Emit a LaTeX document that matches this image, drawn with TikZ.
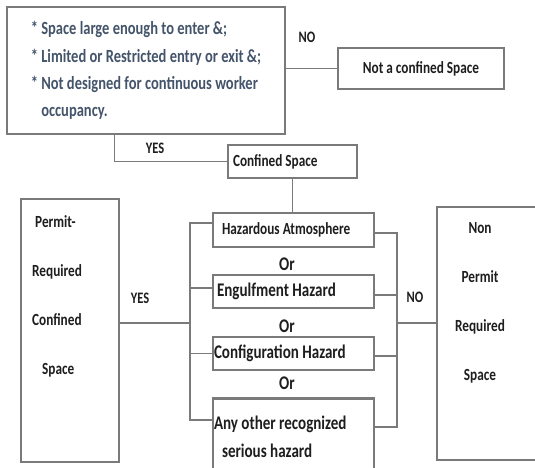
\documentclass[tikz,border=0pt]{standalone}
\usepackage{fontspec}
\setmainfont{Carlito}[FakeStretch=0.78]
\definecolor{linegray}{HTML}{7A7A7A}
\definecolor{txt}{HTML}{1E1E1E}
\definecolor{blueish}{HTML}{44546A}
\begin{document}
\begin{tikzpicture}[x=1pt,y=-1pt,
  box/.style={draw=linegray, line width=1.3pt, rectangle, inner sep=0pt},
  wire/.style={draw=linegray, line width=1.5pt},
  lbl/.style={font=\bfseries\fontsize{16}{18}\selectfont, text=txt, inner sep=0pt},
  bigtxt/.style={font=\bfseries\fontsize{19.3}{21}\selectfont},
  every node/.style={font=\bfseries\fontsize{17}{19}\selectfont, text=txt}
]
\clip (0,0) rectangle (535,467);
\fill[white] (0,0) rectangle (535,467);

% top decision box
\node[box, minimum width=278pt, minimum height=127pt, align=flush left, text=blueish,
      font=\bfseries\fontsize{18.6}{27.3}\selectfont] (top) at (146,70.5)
  {* Space large enough to enter \&;\\
   * Limited or Restricted entry or exit \&;\\
   * Not designed for continuous worker\\
   \phantom{* }occupancy.};

\node[box, minimum width=166pt, minimum height=41pt] (notconf) at (421,68.5) {Not a confined Space};

\node[box, minimum height=33pt, text width=119pt, inner xsep=5pt, align=flush left] (confined) at (292.5,161.5) {Confined Space};

% hazard boxes
\node[box, minimum height=34pt, text width=143pt, inner xsep=9pt, align=flush left] (haz1) at (293.5,230) {Hazardous Atmosphere};
\node[box, bigtxt, minimum height=33pt, text width=153pt, inner xsep=4pt, align=flush left] (haz2) at (293.5,291.5) {Engulfment Hazard};
\node[box, bigtxt, minimum height=33pt, text width=159pt, inner xsep=1pt, align=flush left] (haz3) at (293.5,353.5) {Configuration Hazard};
\node[box, minimum height=76pt, text width=159pt, inner xsep=1pt, align=flush left,
      font=\bfseries\fontsize{19.3}{28}\selectfont] (haz4) at (293.5,437)
  {Any other recognized\\\hspace{8pt}serious hazard};
\draw[linegray, line width=3pt] (haz4.north west) -- (haz4.north east);

% result boxes
\node[box, minimum width=98pt, minimum height=263pt] (permit) at (70,330.5) {};
\node[anchor=west, inner sep=0pt, align=flush left, font=\bfseries\fontsize{17}{49}\selectfont] (permittxt) at (32,296.5)
  {\hspace{3pt}Permit-\\Required\\Confined\\\hspace{10pt}Space};

\node[box, minimum width=108pt, minimum height=253pt] (nonpermit) at (491,333.5) {};
\node[inner sep=0pt, align=center, font=\bfseries\fontsize{17}{49}\selectfont] (nonpermittxt) at (480,303)
  {Non\\Permit\\Required\\Space};

% labels
\node[lbl] (no1) at (307,37) {NO};
\node[lbl] (yes1) at (155,148) {YES};
\node[lbl] (yes2) at (140,298) {YES};
\node[lbl] (no2) at (415,297) {NO};
\node[inner sep=0pt, bigtxt] (or1) at (287,264) {Or};
\node[inner sep=0pt, bigtxt] (or2) at (287,326) {Or};
\node[inner sep=0pt, bigtxt] (or3) at (287,383) {Or};

% connectors
\draw[wire] (notconf.west) -- (notconf.west -| top.east);
\draw[wire] (confined.west) -| ([xshift=108pt]top.south west);
\draw[wire] (confined.south) -- (confined.south |- haz1.north);

\coordinate (jl) at (190,323);
\draw[wire] ([yshift=7pt]haz1.west) -| (jl);
\draw[wire] ([yshift=3.5pt]haz2.west) -| (jl);
\draw[wire] (haz3.west) -| (jl);
\draw[wire] ([yshift=17pt]haz4.west) -| (jl);
\draw[wire] (jl) -- (jl -| permit.east);

\coordinate (jr) at (397,323);
\draw[wire] ([yshift=-3pt]haz1.east) -| (jr);
\draw[wire] ([yshift=-3.5pt]haz2.east) -| (jr);
\draw[wire] ([yshift=-2.5pt]haz3.east) -| (jr);
\draw[wire] ([yshift=10pt]haz4.east) -| (jr);
\draw[wire] (jr) -- (jr -| nonpermit.west);
\end{tikzpicture}
\end{document}
